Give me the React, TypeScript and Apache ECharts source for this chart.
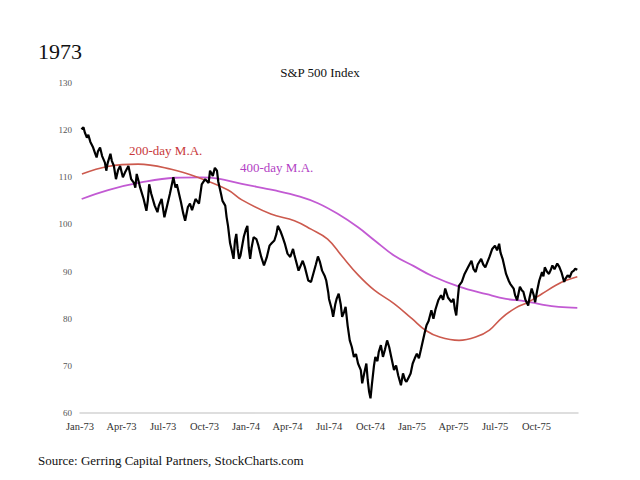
import React, { useEffect, useRef } from "react";
import * as echarts from "echarts";

// x = months since 1 Jan 1973
const tickLabels = ["Jan-73", "Apr-73", "Jul-73", "Oct-73", "Jan-74", "Apr-74", "Jul-74", "Oct-74", "Jan-75", "Apr-75", "Jul-75", "Oct-75"];

const sp500: [number, number][] = [
  [0.1, 120.2], [0.25, 120.6], [0.35, 119.5], [0.5, 118.4], [0.6, 119.0], [0.75, 117.5], [0.95, 116.3],
  [1.1, 115.0], [1.2, 114.2], [1.3, 115.5], [1.45, 116.3], [1.6, 114.5], [1.8, 113.1], [1.9, 111.4],
  [2.0, 113.0], [2.2, 115.0], [2.3, 113.5], [2.45, 112.4], [2.6, 109.6], [2.75, 111.5], [2.9, 112.4],
  [3.1, 110.0], [3.25, 111.0], [3.5, 112.4], [3.6, 111.0], [3.7, 109.6], [3.9, 108.8], [4.0, 107.8],
  [4.1, 110.7], [4.25, 109.0], [4.35, 107.8], [4.6, 105.4], [4.8, 102.9], [4.9, 105.0], [5.0, 108.5],
  [5.15, 106.5], [5.4, 104.0], [5.6, 102.6], [5.7, 104.0], [5.9, 105.4], [6.1, 101.5], [6.3, 104.0],
  [6.5, 106.5], [6.75, 110.0], [6.9, 107.8], [7.0, 108.5], [7.3, 104.7], [7.45, 102.5], [7.6, 100.8],
  [7.8, 103.7], [7.95, 104.4], [8.1, 103.0], [8.35, 105.4], [8.6, 104.4], [8.8, 108.5], [9.05, 109.6],
  [9.3, 108.8], [9.4, 111.4], [9.6, 110.3], [9.75, 112.0], [9.9, 111.4], [10.0, 109.0], [10.2, 106.4],
  [10.3, 105.0], [10.5, 104.0], [10.6, 101.5], [10.7, 99.7], [10.85, 96.0], [10.95, 94.8], [11.1, 92.7],
  [11.2, 96.5], [11.3, 98.0], [11.4, 94.8], [11.5, 92.7], [11.6, 93.4], [11.75, 95.9], [11.85, 97.5],
  [12.0, 99.0], [12.1, 99.7], [12.2, 95.0], [12.3, 92.7], [12.4, 95.0], [12.55, 97.3], [12.75, 96.9],
  [12.9, 95.5], [13.1, 93.1], [13.3, 91.3], [13.5, 93.0], [13.7, 95.5], [13.85, 96.0], [14.05, 96.6],
  [14.2, 98.0], [14.3, 99.7], [14.5, 98.5], [14.65, 97.3], [14.8, 96.0], [15.0, 93.8], [15.2, 93.1],
  [15.4, 94.8], [15.5, 93.5], [15.8, 90.2], [16.1, 92.3], [16.25, 91.0], [16.5, 88.1], [16.7, 87.8],
  [16.9, 89.9], [17.05, 91.5], [17.2, 93.2], [17.35, 92.0], [17.5, 90.2], [17.7, 89.0], [17.8, 88.1],
  [17.95, 85.5], [18.0, 84.2], [18.2, 82.0], [18.3, 80.4], [18.45, 83.0], [18.55, 84.2], [18.7, 85.3],
  [18.85, 83.0], [18.95, 80.4], [19.1, 81.5], [19.2, 82.5], [19.35, 78.5], [19.5, 75.4], [19.65, 74.0],
  [19.8, 71.9], [19.95, 72.5], [20.1, 70.5], [20.3, 69.1], [20.4, 66.3], [20.55, 68.5], [20.7, 70.5],
  [20.8, 67.0], [20.9, 64.5], [21.0, 63.1], [21.1, 66.0], [21.25, 70.0], [21.35, 71.9], [21.5, 71.0],
  [21.6, 73.0], [21.75, 74.4], [21.9, 71.9], [22.05, 73.5], [22.2, 75.4], [22.35, 74.0], [22.5, 71.9],
  [22.7, 69.1], [22.85, 70.1], [23.0, 68.0], [23.2, 65.9], [23.35, 68.4], [23.5, 67.0], [23.6, 66.6],
  [23.75, 67.5], [23.9, 68.4], [24.05, 70.5], [24.2, 71.6], [24.35, 72.6], [24.5, 71.6], [24.65, 73.5],
  [24.9, 76.8], [25.05, 78.6], [25.2, 79.5], [25.4, 81.8], [25.55, 80.0], [25.7, 82.0], [25.9, 83.9],
  [26.1, 85.0], [26.25, 84.0], [26.4, 86.4], [26.6, 84.5], [26.85, 83.5], [27.0, 84.2], [27.1, 82.0],
  [27.2, 80.7], [27.3, 84.0], [27.4, 87.0], [27.6, 87.8], [27.8, 89.5], [28.05, 90.9], [28.3, 92.3],
  [28.45, 90.5], [28.6, 89.9], [28.75, 91.5], [29.0, 92.7], [29.15, 91.5], [29.3, 90.9], [29.45, 92.0],
  [29.6, 93.1], [29.8, 94.8], [30.0, 95.5], [30.15, 94.5], [30.3, 95.9], [30.4, 94.0], [30.55, 92.7],
  [30.8, 89.5], [31.0, 88.0], [31.1, 87.4], [31.35, 86.4], [31.45, 85.0], [31.6, 83.9], [31.8, 86.8],
  [31.95, 86.0], [32.05, 85.7], [32.2, 84.0], [32.4, 82.8], [32.5, 84.5], [32.65, 86.4], [32.8, 85.0],
  [32.9, 83.5], [33.05, 86.0], [33.2, 88.1], [33.4, 89.9], [33.5, 89.0], [33.6, 90.9], [33.75, 90.0],
  [33.9, 89.5], [34.05, 90.5], [34.15, 91.3], [34.3, 90.5], [34.5, 91.7], [34.65, 91.0], [34.8, 89.9],
  [35.0, 87.8], [35.1, 88.5], [35.25, 89.2], [35.4, 88.8], [35.55, 89.9], [35.7, 90.2], [35.8, 90.6],
  [35.95, 90.4],
];

const ma200: [number, number][] = [
  [0.14, 110.7], [2.0, 112.3], [4.2, 112.8], [6.6, 111.7], [8.5, 110.0], [10.7, 107.3], [11.7, 105.2],
  [13.8, 102.2], [15.5, 100.8], [16.7, 99.0], [17.9, 96.9], [18.9, 93.4], [20.1, 89.3], [21.3, 86.0],
  [22.7, 83.2], [24.0, 80.0], [25.0, 77.5], [26.0, 76.1], [27.4, 75.4], [28.6, 76.1], [29.6, 77.6],
  [30.5, 80.2], [31.5, 82.3], [32.4, 83.5], [33.4, 85.3], [34.4, 87.1], [35.1, 88.1], [35.95, 88.9],
];

const ma400: [number, number][] = [
  [0.12, 105.4], [2.03, 107.3], [4.4, 108.9], [6.85, 109.9], [8.8, 110.0], [10.0, 109.7], [11.7, 108.6],
  [14.1, 107.2], [15.9, 105.9], [17.2, 104.5], [18.6, 102.3], [20.1, 99.4], [21.3, 96.6], [22.7, 93.4],
  [24.1, 91.2], [25.5, 89.0], [27.4, 86.8], [29.4, 85.2], [30.8, 84.2], [32.2, 83.7], [33.4, 83.0],
  [34.6, 82.5], [35.95, 82.3],
];

const serif = "'Liberation Serif', 'DejaVu Serif', serif";

export default function App() {
  const ref = useRef<HTMLDivElement>(null);
  useEffect(() => {
    if (!ref.current) return;
    const chart = echarts.init(ref.current, undefined, { renderer: "svg" });
    chart.setOption({
      animation: false,
      backgroundColor: "#ffffff",
      textStyle: { fontFamily: serif },
      grid: { left: 80, right: 62, top: 83, bottom: 67 },
      xAxis: {
        type: "value",
        min: 0,
        max: 36,
        interval: 3,
        axisLine: { show: true, lineStyle: { color: "#d4d4d4", width: 1.5 } },
        axisTick: { show: false },
        splitLine: { show: false },
        axisLabel: {
          margin: 8,
          fontSize: 10.5,
          color: "#333",
          fontFamily: serif,
          formatter: (v: number) => tickLabels[Math.round(v / 3)] ?? "",
        },
      },
      yAxis: {
        type: "value",
        min: 60,
        max: 130,
        interval: 10,
        axisLine: { show: false },
        axisTick: { show: false },
        splitLine: { show: false },
        axisLabel: { margin: 8, fontSize: 9, color: "#555", fontFamily: serif },
      },
      graphic: [
        { type: "text", left: 38, top: 40, style: { text: "1973", font: `22px ${serif}`, fill: "#111" } },
        { type: "text", x: 320, y: 72, style: { text: "S&P 500 Index", font: `13px ${serif}`, fill: "#111", textAlign: "center", textVerticalAlign: "middle" } },
        { type: "text", x: 129, y: 150, style: { text: "200-day M.A.", font: `13px ${serif}`, fill: "#c8383a", textVerticalAlign: "middle" } },
        { type: "text", x: 240, y: 167, style: { text: "400-day M.A.", font: `13px ${serif}`, fill: "#b23fc4", textVerticalAlign: "middle" } },
        { type: "text", x: 38, y: 460, style: { text: "Source: Gerring Capital Partners, StockCharts.com", font: `13px ${serif}`, fill: "#111", textVerticalAlign: "middle" } },
      ],
      series: [
        {
          name: "400-day M.A.",
          type: "line",
          data: ma400,
          smooth: 0.4,
          showSymbol: false,
          lineStyle: { color: "#c25ad3", width: 1.8 },
          z: 2,
        },
        {
          name: "200-day M.A.",
          type: "line",
          data: ma200,
          smooth: 0.4,
          showSymbol: false,
          lineStyle: { color: "#cc5a4e", width: 1.6 },
          z: 3,
        },
        {
          name: "S&P 500",
          type: "line",
          data: sp500,
          showSymbol: false,
          lineStyle: { color: "#000000", width: 2.2 },
          z: 4,
        },
      ],
    });
    return () => chart.dispose();
  }, []);
  return <div ref={ref} style={{ width: 640, height: 480, position: "absolute", left: 0, top: 0 }} />;
}
